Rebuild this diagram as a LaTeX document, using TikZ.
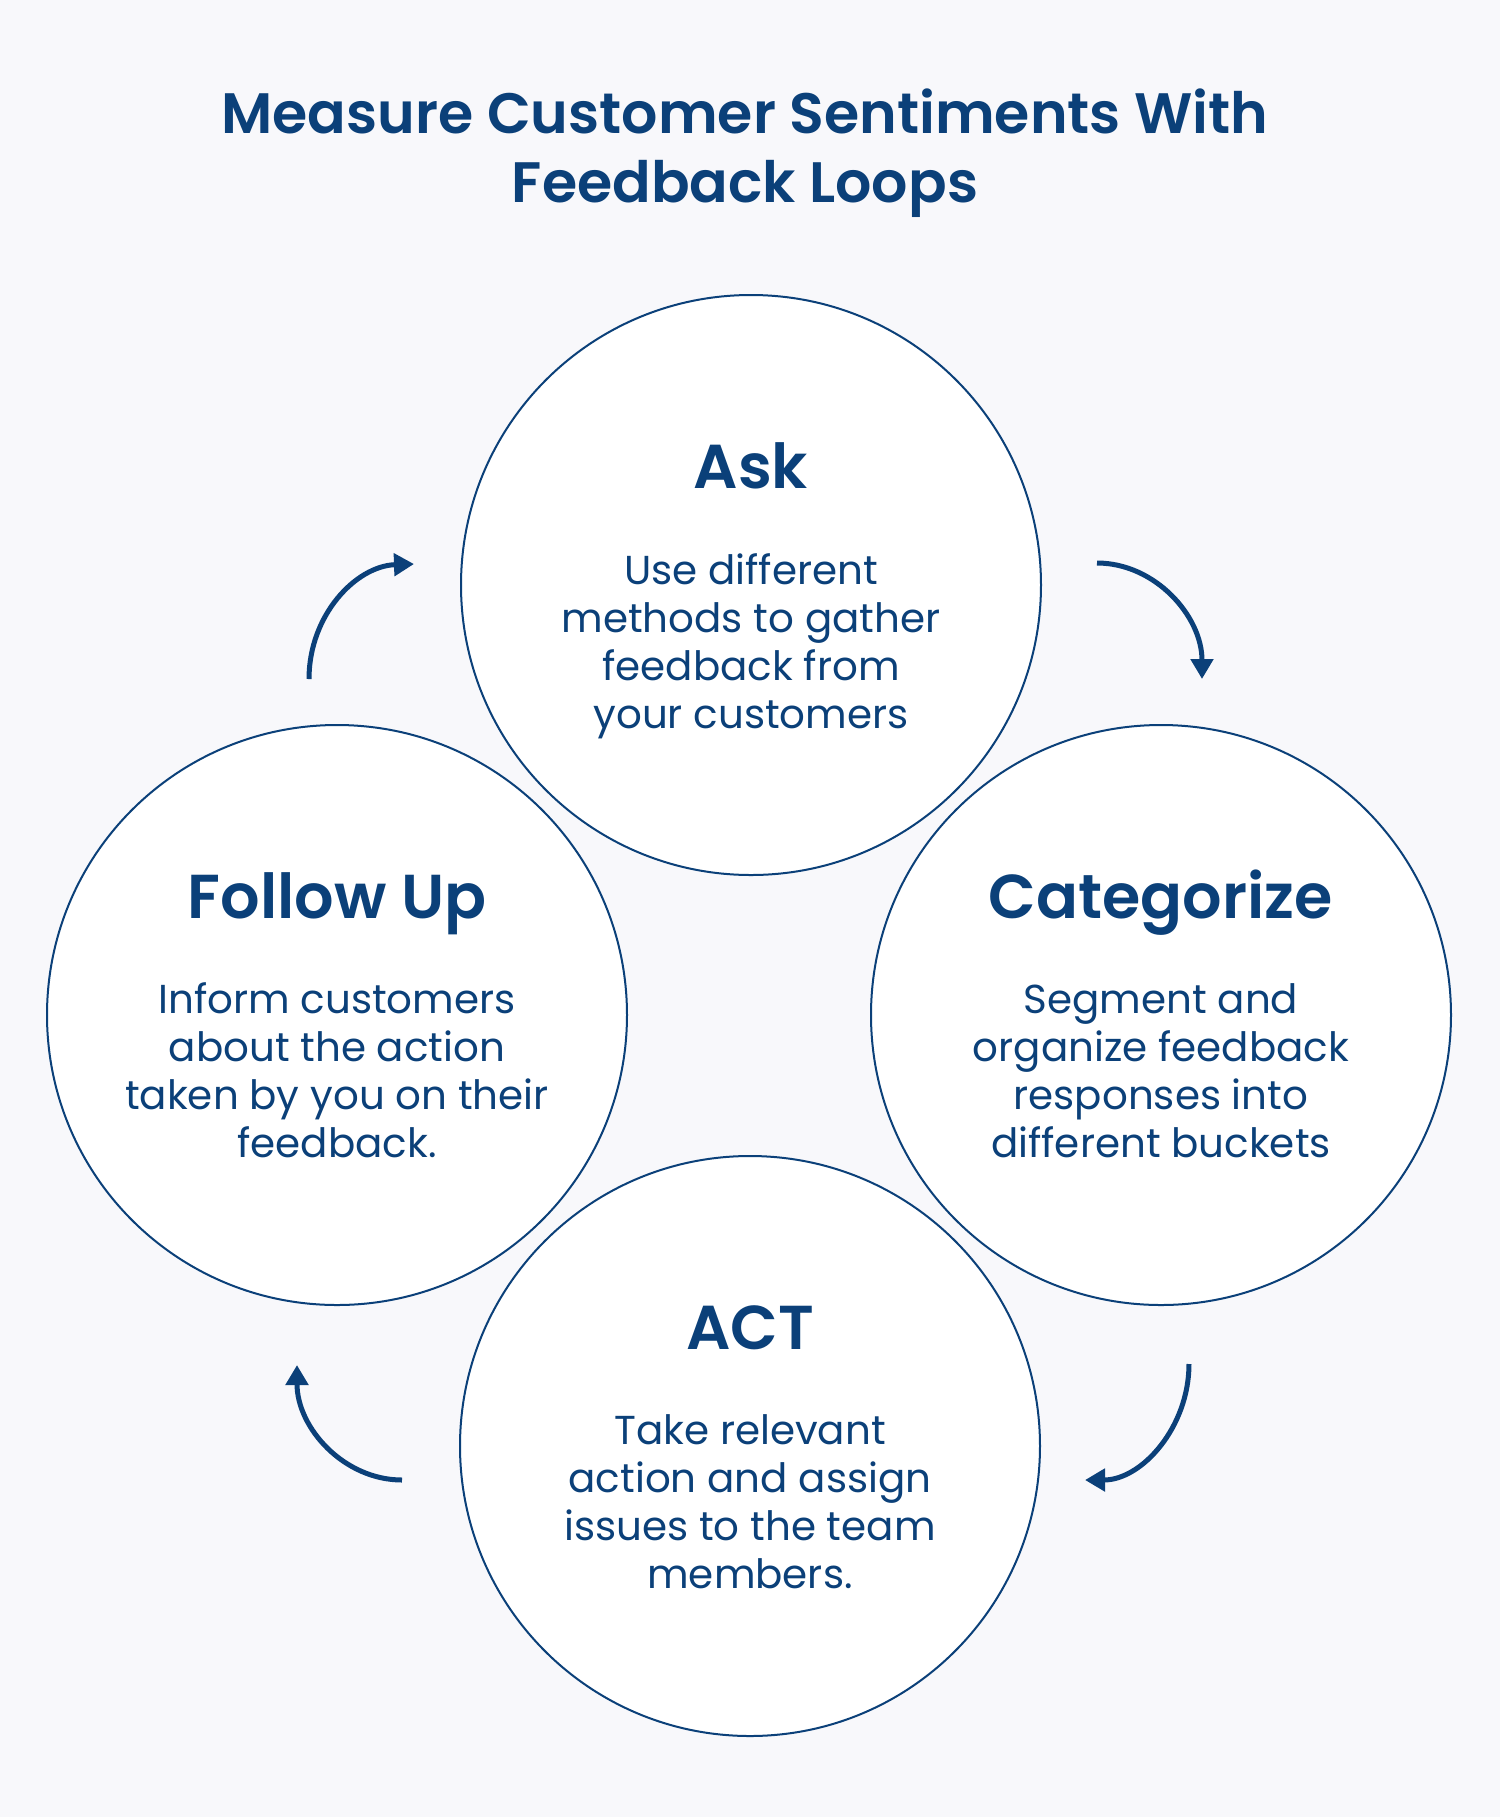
\documentclass[tikz,border=0pt]{standalone}
\usepackage{fontspec}
\setmainfont{Poppins}[BoldFont={Poppins SemiBold}]
\usetikzlibrary{arrows.meta}
\definecolor{navy}{HTML}{0B4079}
\definecolor{bgc}{HTML}{F8F8FB}
\begin{document}
\begin{tikzpicture}[x=0.5pt,y=-0.5pt,
  stage/.style={circle,draw=navy,line width=1pt,fill=white,minimum size=290pt,inner sep=0pt},
  headtext/.style={anchor=base,text=navy,inner sep=0pt,font=\fontsize{31}{38}\selectfont\bfseries},
  bodytext/.style={anchor=base,text=navy,inner sep=0pt,font=\fontsize{20.2}{24}\selectfont},
  titletext/.style={anchor=base,text=navy,inner sep=0pt,font=\fontsize{28.5}{34.5}\selectfont\bfseries},
  cyclearrow/.style={draw=navy,line width=2.5pt,-{Triangle[length=10pt,width=11pt]}}]
\fill[bgc] (0,0) rectangle (1500,1817);
\useasboundingbox (0,0) rectangle (1500,1817);

\node[titletext] (title) at (745,133) {\parbox[t]{700pt}{\centering Measure Customer Sentiments With\\Feedback Loops}};

\node[stage] (ask) at (751,585) {};
\node[stage] (follow) at (337,1015) {};
\node[stage] (cat) at (1161,1015) {};
\node[stage] (act) at (750,1446) {};

\node[headtext] (askH) at (751,488) {Ask};
\node[bodytext] (askB) at (751,584) {\parbox[t]{260pt}{\centering Use different\\methods to gather\\feedback from\\your customers}};

\node[headtext] (followH) at (337,918) {Follow Up};
\node[bodytext] (followB) at (337,1013) {\parbox[t]{260pt}{\centering Inform customers\\about the action\\taken by you on their\\feedback.}};

\node[headtext] (catH) at (1161,918) {Categorize};
\node[bodytext] (catB) at (1161,1013) {\parbox[t]{260pt}{\centering Segment and\\organize feedback\\responses into\\different buckets}};

\node[headtext] (actH) at (750,1349) {ACT};
\node[bodytext] (actB) at (750,1444) {\parbox[t]{260pt}{\centering Take relevant\\action and assign\\issues to the team\\members.}};

\coordinate (a1s) at (309,679);
\coordinate (a1e) at (414,564);
\coordinate (a2s) at (1097,563);
\coordinate (a2e) at (1202,679);
\coordinate (a3s) at (1189,1364);
\coordinate (a3e) at (1085,1480);
\coordinate (a4s) at (402,1480);
\coordinate (a4e) at (297,1365);

\draw[cyclearrow] (a1s) .. controls (309,615) and (356,566) .. (a1e);
\draw[cyclearrow] (a2s) .. controls (1155,563) and (1202,616) .. (a2e);
\draw[cyclearrow] (a3s) .. controls (1189,1427) and (1142,1480) .. (a3e);
\draw[cyclearrow] (a4s) .. controls (344,1480) and (297,1428) .. (a4e);
\end{tikzpicture}
\end{document}
